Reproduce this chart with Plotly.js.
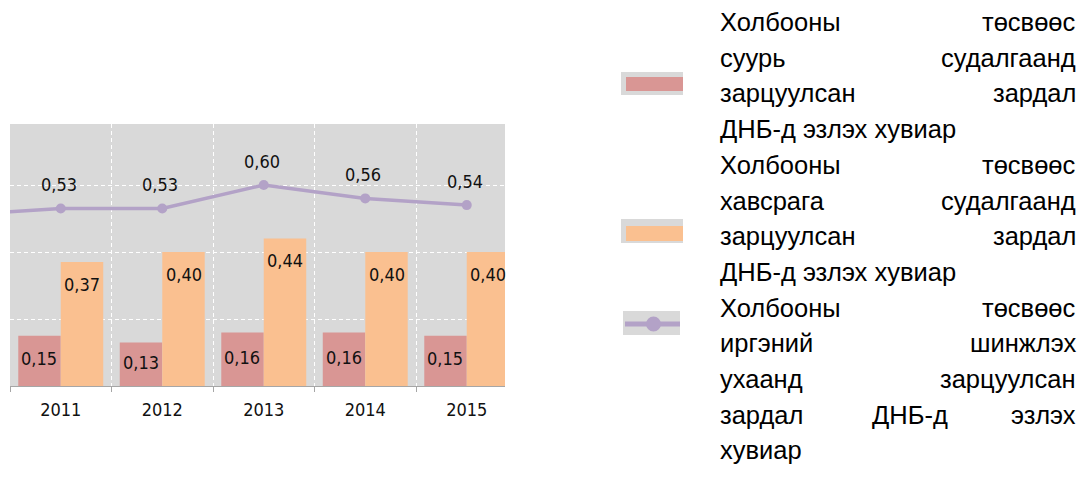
<!DOCTYPE html>
<html>
<head>
<meta charset="utf-8">
<script src="https://cdn.plot.ly/plotly-3.0.1.min.js"></script>
<style>html,body{margin:0;padding:0;background:#fff;}#chart{width:1089px;height:481px;}</style>
</head>
<body>
<div id="chart"></div>
<script>
// ---- data ----
const years = ['2010', '2011', '2012', '2013', '2014', '2015'];
const basicResearch = [null, 0.15, 0.13, 0.16, 0.16, 0.15];
const appliedResearch = [null, 0.37, 0.40, 0.44, 0.40, 0.40];
const totalScience = [0.51, 0.53, 0.53, 0.60, 0.56, 0.54];
const seriesNames = [
  'Холбооны төсвөөс суурь судалгаанд зарцуулсан зардал ДНБ-д эзлэх хувиар',
  'Холбооны төсвөөс хавсрага судалгаанд зарцуулсан зардал ДНБ-д эзлэх хувиар',
  'Холбооны төсвөөс иргэний шинжлэх ухаанд зарцуулсан зардал ДНБ-д эзлэх хувиар'
];
const legendLines = [
  ['Холбооны төсвөөс', 'суурь судалгаанд', 'зарцуулсан зардал', 'ДНБ-д эзлэх хувиар'],
  ['Холбооны төсвөөс', 'хавсрага судалгаанд', 'зарцуулсан зардал', 'ДНБ-д эзлэх хувиар'],
  ['Холбооны төсвөөс', 'иргэний шинжлэх', 'ухаанд зарцуулсан', 'зардал ДНБ-д эзлэх', 'хувиар']
];

// ---- style ----
const RED = '#d99694', ORANGE = '#fac090', PURPLE = '#b3a2c7', BG = '#d9d9d9';
const W = 1089, H = 481;
const M = {l: 10, r: 584, t: 124, b: 95};
const PW = W - M.l - M.r, PH = H - M.t - M.b;
const px2x = p => (p - M.l) / PW;
const px2y = p => (H - M.b - p) / PH;
const labelFont = {family: 'DejaVu Sans Condensed, DejaVu Sans', size: 18, color: '#111'};
const fmt = v => v.toFixed(2).replace('.', ',');

const traces = [
  {type: 'bar', name: seriesNames[0], x: years, y: basicResearch, marker: {color: RED}, hoverinfo: 'none'},
  {type: 'bar', name: seriesNames[1], x: years, y: appliedResearch, marker: {color: ORANGE}, hoverinfo: 'none'},
  {type: 'scatter', mode: 'lines+markers', name: seriesNames[2], x: years, y: totalScience,
   line: {color: PURPLE, width: 3.5}, marker: {color: PURPLE, size: 10}, hoverinfo: 'none', cliponaxis: true}
];

const annotations = [];
years.forEach((yr, i) => {
  if (basicResearch[i] != null) {
    annotations.push({x: i, y: basicResearch[i] / 2, xref: 'x', yref: 'y', text: fmt(basicResearch[i]),
      showarrow: false, xshift: -21.5, yshift: 2, font: labelFont});
  }
  if (appliedResearch[i] != null) {
    annotations.push({x: i, y: appliedResearch[i], xref: 'x', yref: 'y', text: fmt(appliedResearch[i]),
      showarrow: false, xshift: 21.5, yshift: -22, font: labelFont});
  }
  if (i > 0) {
    annotations.push({x: i, y: totalScience[i], xref: 'x', yref: 'y', text: fmt(totalScience[i]),
      showarrow: false, xshift: -2, yshift: 24, font: labelFont});
  }
});

// ---- justified legend text ----
const LF = 25.5, LFAM = 'Liberation Sans';
const cv = document.createElement('canvas').getContext('2d');
cv.font = LF + 'px "' + LFAM + '"';
const TX0 = 718, TX1 = 1078, LY0 = 22, LSTEP = 35.7;
let lineIdx = 0;
legendLines.forEach(par => {
  par.forEach((line, k) => {
    const cy = LY0 + LSTEP * lineIdx;
    const words = line.split(' ');
    const isLast = k === par.length - 1;
    if (isLast || words.length === 1) {
      annotations.push({x: px2x(TX0), y: px2y(cy), xref: 'paper', yref: 'paper', xanchor: 'left', yanchor: 'middle',
        text: line, showarrow: false, font: {family: LFAM, size: LF, color: '#000'}});
    } else {
      const widths = words.map(w => cv.measureText(w).width);
      const gap = (TX1 - TX0 - widths.reduce((a, b) => a + b, 0)) / (words.length - 1);
      let xx = TX0;
      words.forEach((w, j) => {
        const last = j === words.length - 1;
        annotations.push({x: px2x(last ? TX1 : xx), y: px2y(cy), xref: 'paper', yref: 'paper',
          xanchor: last ? 'right' : 'left', yanchor: 'middle', text: w, showarrow: false,
          font: {family: LFAM, size: LF, color: '#000'}});
        xx += widths[j] + gap;
      });
    }
    lineIdx++;
  });
});

// ---- legend symbols ----
const shapes = [];
function rectPx(x0, y0, x1, y1, color) {
  shapes.push({type: 'rect', xref: 'paper', yref: 'paper', x0: px2x(x0), x1: px2x(x1), y0: px2y(y1), y1: px2y(y0),
    fillcolor: color, line: {width: 0}, layer: 'above'});
}
rectPx(621, 72, 683, 95, BG); rectPx(626, 77, 683, 91, RED);
rectPx(621, 219, 683, 243, BG); rectPx(626, 226, 683, 241, ORANGE);
rectPx(623, 311, 680, 335, BG);
shapes.push({type: 'line', xref: 'paper', yref: 'paper', x0: px2x(625), x1: px2x(680), y0: px2y(324), y1: px2y(324),
  line: {color: PURPLE, width: 5}, layer: 'above'});
shapes.push({type: 'circle', xref: 'paper', yref: 'paper', x0: px2x(646), x1: px2x(661), y0: px2y(331.5), y1: px2y(316.5),
  fillcolor: PURPLE, line: {width: 0}, layer: 'above'});

const layout = {
  width: W, height: H,
  margin: M,
  paper_bgcolor: '#fff', plot_bgcolor: BG,
  showlegend: false,
  barmode: 'group', bargap: 0.163, bargroupgap: 0,
  xaxis: {
    type: 'category', range: [0.5, 0.5 + PW / 101.5], tickson: 'boundaries',
    showgrid: true, gridcolor: '#fff', griddash: '4px,3px', gridwidth: 1,
    showline: true, linecolor: '#a6a6a6', linewidth: 1,
    ticks: 'outside', ticklen: 5, tickcolor: '#a6a6a6',
    tickfont: {family: 'DejaVu Sans Condensed, DejaVu Sans', size: 18, color: '#111'}, ticklabelstandoff: 7,
    fixedrange: true
  },
  yaxis: {
    range: [0, PH / 335], dtick: 0.2, showticklabels: false, ticks: '',
    showgrid: true, gridcolor: '#fff', griddash: '4px,3px', gridwidth: 1,
    zeroline: false, showline: false, fixedrange: true
  },
  annotations: annotations,
  shapes: shapes
};

Plotly.newPlot('chart', traces, layout, {displayModeBar: false, staticPlot: true});
</script>
</body>
</html>
